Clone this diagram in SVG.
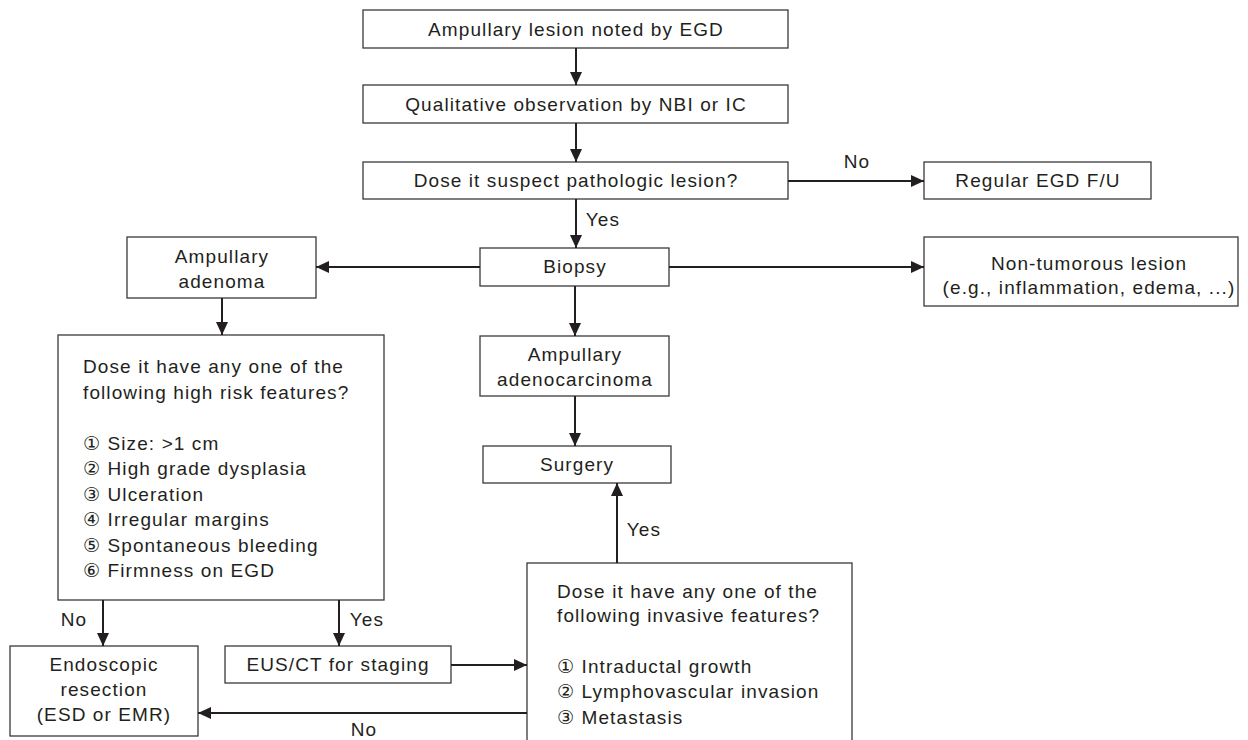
<svg xmlns="http://www.w3.org/2000/svg" width="1248" height="740" viewBox="0 0 1248 740">
<defs>
<marker id="ah" markerUnits="userSpaceOnUse" markerWidth="14" markerHeight="12" refX="13" refY="6" orient="auto">
<path d="M0,0 L13,6 L0,12 Z" fill="#231f20"/>
</marker>
<style>
.box{fill:#fff;stroke:#3a3a3a;stroke-width:1.3}
.t{font-family:"Liberation Sans",Arial,"DejaVu Sans",sans-serif;font-size:19px;letter-spacing:1.1px;fill:#231f20}
.c{text-anchor:middle}
.ln{stroke:#231f20;stroke-width:2;fill:none}
.a{marker-end:url(#ah)}
</style>
</defs>
<rect width="1248" height="740" fill="#fff"/>
<g id="n1"><rect class="box" x="363" y="10" width="425" height="38"/><text class="t c" x="576" y="36">Ampullary lesion noted by EGD</text></g>
<g id="n2"><rect class="box" x="363" y="85" width="425" height="38"/><text class="t c" x="576" y="111">Qualitative observation by NBI or IC</text></g>
<g id="n3"><rect class="box" x="363" y="162" width="425" height="37"/><text class="t c" x="576" y="187">Dose it suspect pathologic lesion?</text></g>
<g id="n4"><rect class="box" x="924" y="162" width="227" height="37"/><text class="t c" x="1038" y="187">Regular EGD F/U</text></g>
<g id="n5"><rect class="box" x="480" y="248" width="189" height="38"/><text class="t c" x="575" y="273">Biopsy</text></g>
<g id="n6"><rect class="box" x="127" y="237" width="189" height="61"/><text class="t c" x="222" y="263">Ampullary</text><text class="t c" x="222" y="288">adenoma</text></g>
<g id="n7"><rect class="box" x="924" y="237" width="314" height="69"/><text class="t c" x="1089" y="270">Non-tumorous lesion</text><text class="t c" x="1089" y="294">(e.g., inflammation, edema, ...)</text></g>
<g id="n8"><rect class="box" x="480" y="336" width="189" height="60"/><text class="t c" x="575" y="361">Ampullary</text><text class="t c" x="575" y="386">adenocarcinoma</text></g>
<g id="n9"><rect class="box" x="483" y="446" width="188" height="37"/><text class="t c" x="577" y="471">Surgery</text></g>
<g id="n10"><rect class="box" x="58" y="335" width="326" height="265"/>
<text class="t" x="83" y="373">Dose it have any one of the</text>
<text class="t" x="83" y="399">following high risk features?</text>
<text class="t" x="83" y="450">① Size: &gt;1 cm</text>
<text class="t" x="83" y="475">② High grade dysplasia</text>
<text class="t" x="83" y="501">③ Ulceration</text>
<text class="t" x="83" y="526">④ Irregular margins</text>
<text class="t" x="83" y="552">⑤ Spontaneous bleeding</text>
<text class="t" x="83" y="577">⑥ Firmness on EGD</text></g>
<g id="n11"><rect class="box" x="10" y="646" width="188" height="90"/><text class="t c" x="104" y="671">Endoscopic</text><text class="t c" x="104" y="696">resection</text><text class="t c" x="104" y="721">(ESD or EMR)</text></g>
<g id="n12"><rect class="box" x="225" y="646" width="226" height="37"/><text class="t c" x="338" y="671">EUS/CT for staging</text></g>
<g id="n13"><rect class="box" x="527" y="563" width="325" height="200"/>
<text class="t" x="557" y="598">Dose it have any one of the</text>
<text class="t" x="557" y="622">following invasive features?</text>
<text class="t" x="557" y="673">① Intraductal growth</text>
<text class="t" x="557" y="698">② Lymphovascular invasion</text>
<text class="t" x="557" y="724">③ Metastasis</text></g>
<g id="connectors">
<line class="ln a" x1="576" y1="48" x2="576" y2="85"/>
<line class="ln a" x1="576" y1="123" x2="576" y2="162"/>
<line class="ln a" x1="788" y1="181" x2="924" y2="181"/>
<text class="t c" x="857" y="168">No</text>
<line class="ln a" x1="576" y1="199" x2="576" y2="248"/>
<text class="t c" x="603" y="226">Yes</text>
<line class="ln a" x1="480" y1="267" x2="316" y2="267"/>
<line class="ln a" x1="669" y1="267" x2="924" y2="267"/>
<line class="ln a" x1="222" y1="298" x2="222" y2="335"/>
<line class="ln a" x1="575" y1="286" x2="575" y2="336"/>
<line class="ln a" x1="575" y1="396" x2="575" y2="446"/>
<line class="ln a" x1="617" y1="563" x2="617" y2="483"/>
<text class="t c" x="644" y="536">Yes</text>
<line class="ln a" x1="103" y1="600" x2="103" y2="646"/>
<text class="t c" x="74" y="626">No</text>
<line class="ln a" x1="339" y1="600" x2="339" y2="646"/>
<text class="t c" x="367" y="626">Yes</text>
<line class="ln a" x1="451" y1="665" x2="527" y2="665"/>
<line class="ln a" x1="527" y1="713" x2="198" y2="713"/>
<text class="t c" x="364" y="736">No</text>
</g>
</svg>
